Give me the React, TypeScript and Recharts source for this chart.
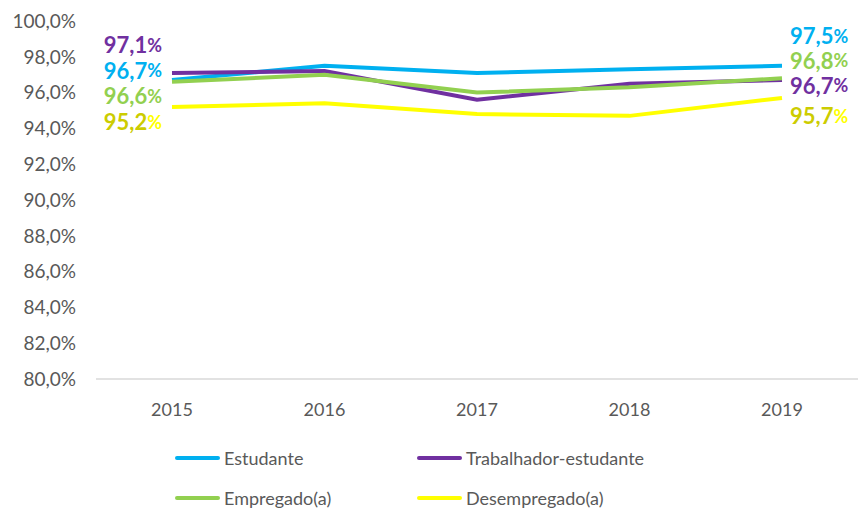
import { LineChart, Line, XAxis, YAxis, Legend } from "recharts"

const years = ["2015", "2016", "2017", "2018", "2019"]
const estudante = [96.7, 97.5, 97.1, 97.3, 97.5]
const trabalhador = [97.1, 97.2, 95.6, 96.5, 96.7]
const empregado = [96.6, 97.0, 96.0, 96.3, 96.8]
const desempregado = [95.2, 95.4, 94.8, 94.7, 95.7]
const yTicks = [80, 82, 84, 86, 88, 90, 92, 94, 96, 98, 100]

const data = years.map((year, i) => ({
  year,
  estudante: estudante[i],
  trabalhador: trabalhador[i],
  empregado: empregado[i],
  desempregado: desempregado[i],
}))

// per-series look: line colour, label colours, label nudges at 2015 / 2019
const series = [
  { key: "estudante", name: "Estudante", color: "#00B0F0", text: "#00B0F0", pct: "#00B0F0", dyStart: -10, dyEnd: -30 },
  { key: "trabalhador", name: "Trabalhador-estudante", color: "#7030A0", text: "#7030A0", pct: "#7030A0", dyStart: -28, dyEnd: 5 },
  { key: "empregado", name: "Empregado(a)", color: "#92D050", text: "#92D050", pct: "#92D050", dyStart: 14, dyEnd: -18 },
  { key: "desempregado", name: "Desempregado(a)", color: "#FFFF00", text: "#CCCC00", pct: "#FFFF00", dyStart: 15, dyEnd: 18 },
]

const font = "Lato, 'Open Sans', sans-serif"
const pctFmt = (v: number) => v.toFixed(1).replace(".", ",") + "%"

function endLabel(s: (typeof series)[number]) {
  return (props: any) => {
    const { x, y, value, index } = props
    if (index !== 0 && index !== years.length - 1) return null
    const first = index === 0
    return (
      <text
        key={`${s.key}-${index}`}
        x={first ? x - 10 : x + 8}
        y={y + (first ? s.dyStart : s.dyEnd)}
        textAnchor={first ? "end" : "start"}
        dominantBaseline="central"
        fontFamily={font}
        fontWeight={700}
        fontSize={22}
        fill={s.text}
      >
        {Number(value).toFixed(1).replace(".", ",")}
        <tspan fontSize={18} fill={s.pct}>%</tspan>
      </text>
    )
  }
}

const renderLegend = (props: any) => {
  const order = series.map((s) => s.name)
  const payload = [...props.payload].sort(
    (a: any, b: any) => order.indexOf(a.value) - order.indexOf(b.value)
  )
  return (
    <div
      style={{
        display: "grid",
        gridTemplateColumns: "242px 320px",
        gridAutoRows: "28px",
        rowGap: 12,
        fontFamily: font,
        fontSize: 18,
        color: "#595959",
      }}
    >
      {payload.map((entry: any) => (
        <div key={entry.value} style={{ display: "flex", alignItems: "center" }}>
          <span
            style={{
              display: "inline-block",
              width: 45,
              height: 4,
              borderRadius: 2,
              background: entry.color,
              marginRight: 4,
            }}
          />
          {entry.value}
        </div>
      ))}
    </div>
  )
}

export default function App() {
  return (
    <div style={{ position: "absolute", left: 0, top: 0 }}>
      <LineChart
        width={860}
        height={512}
        data={data}
        margin={{ top: 21, right: 2, left: 0, bottom: 93 }}
      >
        <XAxis
          dataKey="year"
          height={40}
          padding={{ left: 76, right: 76 }}
          tickLine={false}
          axisLine={{ stroke: "#D9D9D9", strokeWidth: 1.5 }}
          tickMargin={18}
          tick={{ fill: "#595959", fontSize: 18, fontFamily: font }}
        />
        <YAxis
          width={96}
          domain={[80, 100]}
          ticks={yTicks}
          tickFormatter={pctFmt}
          axisLine={false}
          tickLine={false}
          tickSize={0}
          tickMargin={20}
          tick={{ fill: "#595959", fontSize: 19, fontFamily: font }}
        />
        {series.map((s) => (
          <Line
            key={s.key}
            dataKey={s.key}
            name={s.name}
            stroke={s.color}
            strokeWidth={4}
            dot={false}
            type="linear"
            isAnimationActive={false}
            label={endLabel(s)}
          />
        ))}
        <Legend
          verticalAlign="middle"
          align="center"
          layout="horizontal"
          content={renderLegend}
          wrapperStyle={{ position: "absolute", top: 444, left: 175, width: 570 }}
        />
      </LineChart>
    </div>
  )
}
